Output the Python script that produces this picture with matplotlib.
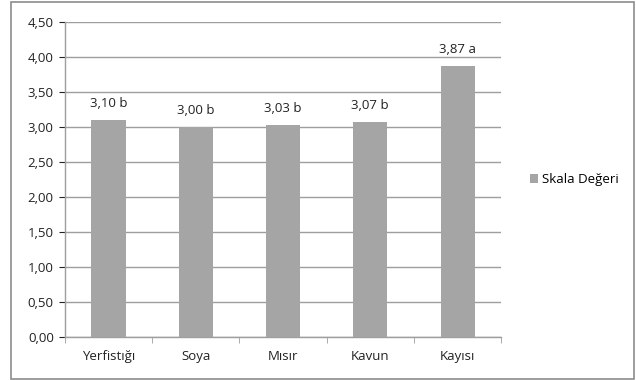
import matplotlib

matplotlib.use("Agg")
import matplotlib.pyplot as plt
from matplotlib.patches import Rectangle
import numpy as np

categories = ["Yerfistığı", "Soya", "Mısır", "Kavun", "Kayısı"]
values = [3.10, 3.00, 3.03, 3.07, 3.87]
letters = ["b", "b", "b", "b", "a"]
yticks = [0.0, 0.5, 1.0, 1.5, 2.0, 2.5, 3.0, 3.5, 4.0, 4.5]
series_name = "Skala Değeri"

plt.rcParams["font.family"] = ["Open Sans", "DejaVu Sans"]
plt.rcParams["font.size"] = 9.5

fig = plt.figure(figsize=(6.36, 3.8), dpi=100)
ax = fig.add_axes([0.102, 0.113, 0.686, 0.829])

bar_col = "#a5a5a5"
grid_col = "#9e9e9e"
x = np.arange(len(categories))
bars = ax.bar(x, values, width=0.39, color=bar_col, label=series_name, zorder=3)

for xi, v, l in zip(x, values, letters):
    ax.annotate(f"{v:.2f}".replace(".", ",") + " " + l, (xi, v),
                xytext=(0, 7), textcoords="offset points",
                ha="center", va="bottom", color="#222222")

ax.set_xlim(-0.5, len(categories) - 0.5)
ax.set_ylim(0, 4.5)
ax.set_yticks(yticks)
ax.set_yticklabels([f"{t:.2f}".replace(".", ",") for t in yticks])
ax.set_xticks(x)
ax.set_xticklabels(categories)
ax.set_xticks(np.arange(-0.5, len(categories)), minor=True)
ax.tick_params(axis="x", which="major", length=0, pad=9)
ax.tick_params(axis="x", which="minor", length=4, color=grid_col, direction="out")
ax.tick_params(axis="y", length=4, color=grid_col, pad=4)
ax.tick_params(colors="#222222", which="major")
ax.grid(axis="y", color=grid_col, lw=1.0, zorder=0)
for s in ["top", "right"]:
    ax.spines[s].set_visible(False)
for s in ["left", "bottom"]:
    ax.spines[s].set_color(grid_col)
    ax.spines[s].set_linewidth(1.0)

ax.legend(loc="center left", bbox_to_anchor=(1.04, 0.5), frameon=False,
          handlelength=0.6, handleheight=0.6, handletextpad=0.3, fontsize=9.5)

fig.patches.append(Rectangle((0.018, 0.003), 0.979, 0.992, transform=fig.transFigure,
                             fill=False, edgecolor="#8c8c8c", lw=1.2))

fig.savefig("out.png", dpi=100)
